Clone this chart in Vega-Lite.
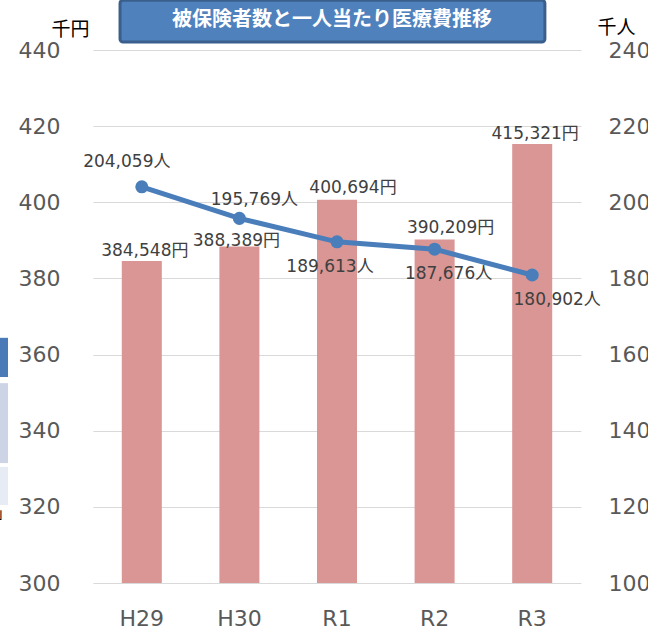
{
  "$schema": "https://vega.github.io/schema/vega-lite/v6.json",
  "width": 488,
  "height": 533,
  "autosize": {"type": "none"},
  "padding": {"left": 93, "top": 50, "right": 67, "bottom": 50},
  "background": "white",
  "config": {
    "view": {"stroke": null},
    "text": {"font": "DejaVu Sans, Noto Sans CJK JP", "fontSize": 17, "color": "#404040", "baseline": "middle", "align": "center"}
  },
  "datasets": {
    "main": [
      {"year": "H29", "cost": 384.548, "people": 204.059, "costLabel": "384,548円", "peopleLabel": "204,059人"},
      {"year": "H30", "cost": 388.389, "people": 195.769, "costLabel": "388,389円", "peopleLabel": "195,769人"},
      {"year": "R1", "cost": 400.694, "people": 189.613, "costLabel": "400,694円", "peopleLabel": "189,613人"},
      {"year": "R2", "cost": 390.209, "people": 187.676, "costLabel": "390,209円", "peopleLabel": "187,676人"},
      {"year": "R3", "cost": 415.321, "people": 180.902, "costLabel": "415,321円", "peopleLabel": "180,902人"}
    ]
  },
  "layer": [
    {
      "data": {"name": "main"},
      "encoding": {
        "x": {
          "field": "year", "type": "nominal", "sort": null,
          "scale": {"paddingInner": 0.59, "paddingOuter": 0.295},
          "axis": {"title": null, "domain": false, "ticks": false, "grid": false, "labelAngle": 0,
                   "labelFont": "DejaVu Sans", "labelFontSize": 22, "labelColor": "#595959",
                   "labelBaseline": "middle", "labelPadding": 35}
        }
      },
      "layer": [
        {
          "encoding": {
            "y": {
              "field": "cost", "type": "quantitative",
              "scale": {"domain": [300, 440], "zero": false, "nice": false},
              "axis": {"orient": "left", "values": [300, 320, 340, 360, 380, 400, 420, 440],
                       "domain": false, "ticks": false, "grid": true, "gridColor": "#d9d9d9", "gridWidth": 1,
                       "labelFont": "DejaVu Sans", "labelFontSize": 22, "labelColor": "#595959", "labelPadding": 33,
                       "title": "千円", "titleAngle": 0, "titleX": -23, "titleY": -21, "titleAlign": "center",
                       "titleBaseline": "middle", "titleFont": "Noto Sans CJK JP", "titleFontSize": 19,
                       "titleFontWeight": "normal", "titleColor": "#000000"}
            }
          },
          "layer": [
            {"mark": {"type": "bar", "color": "#d99694"}, "encoding": {"y2": {"datum": 300}}},
            {"transform": [{"filter": "datum.year === 'H29' || datum.year === 'R3'"}],
             "mark": {"type": "text", "dx": 3, "dy": -10}, "encoding": {"text": {"field": "costLabel"}}},
            {"transform": [{"filter": "datum.year === 'H30'"}],
             "mark": {"type": "text", "dx": -3, "dy": -5}, "encoding": {"text": {"field": "costLabel"}}},
            {"transform": [{"filter": "datum.year === 'R1' || datum.year === 'R2'"}],
             "mark": {"type": "text", "dx": 16, "dy": -12}, "encoding": {"text": {"field": "costLabel"}}}
          ]
        },
        {
          "encoding": {
            "y": {
              "field": "people", "type": "quantitative",
              "scale": {"domain": [100, 240], "zero": false, "nice": false},
              "axis": {"orient": "right", "values": [100, 120, 140, 160, 180, 200, 220, 240],
                       "domain": false, "ticks": false, "grid": false,
                       "labelFont": "DejaVu Sans", "labelFontSize": 22, "labelColor": "#595959", "labelPadding": 27,
                       "title": "千人", "titleAngle": 0, "titleX": 35, "titleY": -23, "titleAlign": "center",
                       "titleBaseline": "middle", "titleFont": "Noto Sans CJK JP", "titleFontSize": 19,
                       "titleFontWeight": "normal", "titleColor": "#000000"}
            }
          },
          "layer": [
            {"mark": {"type": "line", "color": "#4a7ebb", "strokeWidth": 5}},
            {"mark": {"type": "circle", "color": "#4a7ebb", "size": 170, "opacity": 1}},
            {"transform": [{"filter": "datum.year === 'H29'"}],
             "mark": {"type": "text", "dx": -15, "dy": -25}, "encoding": {"text": {"field": "peopleLabel"}}},
            {"transform": [{"filter": "datum.year === 'H30'"}],
             "mark": {"type": "text", "dx": 15, "dy": -18}, "encoding": {"text": {"field": "peopleLabel"}}},
            {"transform": [{"filter": "datum.year === 'R1'"}],
             "mark": {"type": "text", "dx": -7, "dy": 25}, "encoding": {"text": {"field": "peopleLabel"}}},
            {"transform": [{"filter": "datum.year === 'R2'"}],
             "mark": {"type": "text", "dx": 14, "dy": 25}, "encoding": {"text": {"field": "peopleLabel"}}},
            {"transform": [{"filter": "datum.year === 'R3'"}],
             "mark": {"type": "text", "dx": 25, "dy": 25}, "encoding": {"text": {"field": "peopleLabel"}}}
          ]
        }
      ],
      "resolve": {"scale": {"y": "independent"}}
    },
    {
      "data": {"values": [{"title": "被保険者数と一人当たり医療費推移", "bracket": "」"}]},
      "layer": [
        {
          "mark": {"type": "rect", "color": "#4f81bd", "stroke": "#3b5f8c", "strokeWidth": 3, "cornerRadius": 3},
          "encoding": {
            "x": {"datum": 0.277, "type": "quantitative", "scale": {"domain": [0, 5], "zero": false, "nice": false}, "axis": null},
            "x2": {"datum": 4.63},
            "y": {"datum": 453.1, "type": "quantitative", "scale": {"domain": [300, 440], "zero": false, "nice": false}, "axis": null},
            "y2": {"datum": 442.1}
          }
        },
        {
          "mark": {"type": "text", "font": "Noto Sans CJK JP", "fontWeight": "bold", "fontSize": 20, "color": "#ffffff"},
          "encoding": {
            "x": {"datum": 2.449, "type": "quantitative"},
            "y": {"datum": 447.9, "type": "quantitative"},
            "text": {"field": "title"}
          }
        },
        {
          "mark": {"type": "rect", "color": "#4a7ab8"},
          "encoding": {"x": {"datum": -0.96, "type": "quantitative"}, "x2": {"datum": -0.871},
                       "y": {"datum": 364.4, "type": "quantitative"}, "y2": {"datum": 354.1}}
        },
        {
          "mark": {"type": "rect", "color": "#cdd4e6"},
          "encoding": {"x": {"datum": -0.96, "type": "quantitative"}, "x2": {"datum": -0.871},
                       "y": {"datum": 352.5, "type": "quantitative"}, "y2": {"datum": 331.5}}
        },
        {
          "mark": {"type": "rect", "color": "#e6ebf4"},
          "encoding": {"x": {"datum": -0.96, "type": "quantitative"}, "x2": {"datum": -0.871},
                       "y": {"datum": 330.5, "type": "quantitative"}, "y2": {"datum": 320.5}}
        },
        {
          "mark": {"type": "text", "font": "Noto Sans CJK JP", "fontSize": 14, "color": "#000000", "align": "left"},
          "encoding": {"x": {"datum": -0.99, "type": "quantitative"}, "y": {"datum": 318.0, "type": "quantitative"},
                       "text": {"field": "bracket"}}
        }
      ]
    }
  ],
  "resolve": {"scale": {"x": "independent", "y": "independent"}}
}
